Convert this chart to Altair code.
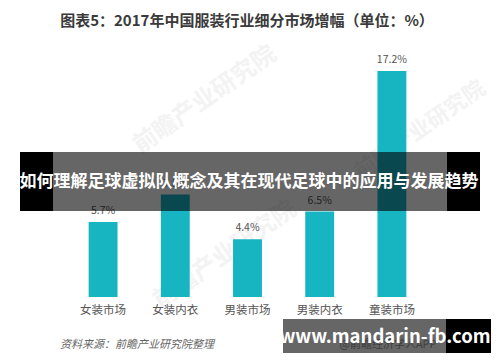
import altair as alt
import pandas as pd

categories = ["女装市场", "女装内衣", "男装市场", "男装内衣", "童装市场"]
values = [5.7, 7.8, 4.4, 6.5, 17.2]
value_labels = ["5.7%", "7.8%", "4.4%", "6.5%", "17.2%"]

title_text = "图表5：2017年中国服装行业细分市场增幅（单位：%）"
source_text = "资料来源：前瞻产业研究院整理"
banner_text = "如何理解足球虚拟队概念及其在现代足球中的应用与发展趋势"
site_text = "www.mandarin-fb.com"
app_text = "@前瞻经济学人APP"
watermark_text = "前瞻产业研究院"

df = pd.DataFrame({"cat": categories, "val": values, "lab": value_labels})
one = pd.DataFrame({"k": [0]})

W, H = 484, 346
OX, OY = 8, 8


def px(x):
    return x - OX


def py(y):
    return y - OY


FONT = "Noto Sans CJK SC"
BAR = "#17b4c2"

xs = alt.X("cat:N", sort=categories, axis=None,
           scale=alt.Scale(range=[px(67), px(428)], paddingInner=0.6, paddingOuter=0.3))
ys = alt.Y("val:Q", axis=None,
           scale=alt.Scale(domain=[0, 20], range=[py(297), py(297) - 20 * 13.14]))


def txt(t, x, y, **kw):
    return alt.Chart(one).mark_text(font=FONT, **kw).encode(
        x=alt.value(px(x)), y=alt.value(py(y)), text=alt.value(t))


def rect(x1, x2, y1, y2, color, opacity=1.0):
    return alt.Chart(one).mark_rect(color=color, opacity=opacity).encode(
        x=alt.value(px(x1)), x2=alt.value(px(x2)),
        y=alt.value(py(y1)), y2=alt.value(py(y2)))


wm = [
    txt(watermark_text, 205, 100, fontSize=24, fontWeight="bold", color="#f3f3f3", angle=325),
    txt(watermark_text, 225, 255, fontSize=24, fontWeight="bold", color="#f3f3f3", angle=325),
    txt(watermark_text, 420, 130, fontSize=22, fontWeight="bold", color="#f3f3f3", angle=325),
]

bars = alt.Chart(df).mark_bar(color=BAR).encode(x=xs, y=ys)
vlabels = alt.Chart(df).mark_text(font=FONT, baseline="bottom", dy=-6, fontSize=10.5,
                                   color="#555555").encode(x=xs, y=ys, text="lab")
clabels = alt.Chart(df).mark_text(font=FONT, fontSize=11.5, color="#555555").encode(
    x=xs, y=alt.value(py(311)), text="cat")

title = txt(title_text, 247, 21, fontSize=15, fontWeight="bold", color="#3a3a3a")
source = txt(source_text, 60, 345, fontSize=11, fontStyle="italic", color="#666666", align="left")
app = txt(app_text, 388, 345, fontSize=11, color="#999999")

banner = [
    rect(20, 53, 152, 211, "#000000"),
    rect(447, 480, 152, 211, "#000000"),
    rect(53, 447, 152, 211, "#000000", 0.6),
    txt(banner_text, 249, 182, fontSize=17, fontWeight="bold", color="#ffffff"),
]

site = [
    rect(283, 446, 319, 353, "#000000", 0.6),
    rect(446, 491, 319, 353, "#000000"),
    txt(site_text, 385, 337, fontSize=18.5, fontWeight="bold", color="#ffffff"),
]

chart = alt.layer(*wm, bars, vlabels, clabels, title, source, app, *banner, *site).properties(
    width=W, height=H, padding=0, autosize=alt.AutoSizeParams(type="none"),
    background="#ffffff",
).configure_view(stroke=None)

chart.save("out.html", embed_options={"renderer": "svg", "actions": False})
